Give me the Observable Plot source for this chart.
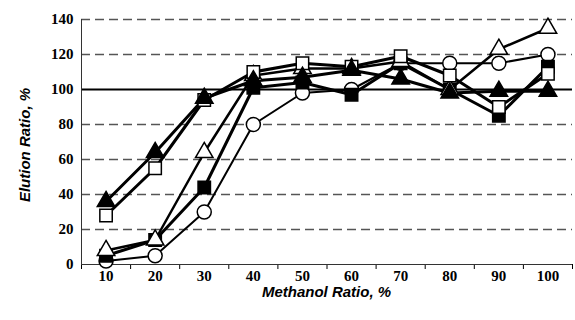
<!DOCTYPE html>
<html><head><meta charset="utf-8">
<script src="https://cdn.jsdelivr.net/npm/d3@7"></script>
<script src="https://cdn.jsdelivr.net/npm/@observablehq/plot@0.6"></script>
<style>body{margin:0;background:#fff}</style>
</head><body><div id="chart"></div>
<script>
const methanol = [10, 20, 30, 40, 50, 60, 70, 80, 90, 100];
const filledTriangle = [36, 64, 95, 105, 107, 111, 106, 98, 99, 99];
const openSquare = [28, 55, 94, 110, 115, 113, 119, 108, 90, 109];
const openTriangle = [8, 14, 64, 108, 112, 112, 116, 100, 123, 135];
const filledSquare = [5, 14, 44, 101, 104, 97, 115, 100, 85, 113];
const openCircle = [2, 5, 30, 80, 98, 100, 115, 115, 115, 120];
const yTicks = [0, 20, 40, 60, 80, 100, 120, 140];
const gridTicks = [20, 40, 60, 80, 120, 140];
const xBoundaries = [5, 15, 25, 35, 45, 55, 65, 75, 85, 95, 105];

const seriesDefs = [
  {name: "openCircle", values: openCircle, symbol: "circle", fill: "white", r: 7, sw: 2},
  {name: "filledSquare", values: filledSquare, symbol: "square", fill: "black", r: 7, sw: 3},
  {name: "openTriangle", values: openTriangle, symbol: "triangle", fill: "white", r: 6.5, sw: 2.5},
  {name: "openSquare", values: openSquare, symbol: "square", fill: "white", r: 7, sw: 3},
  {name: "filledTriangle", values: filledTriangle, symbol: "triangle", fill: "black", r: 6.5, sw: 3}
];

const marks = [
  Plot.ruleY(gridTicks, {stroke: "#555", strokeWidth: 1.5, strokeDasharray: "9,5"}),
  Plot.ruleY([100], {stroke: "black", strokeWidth: 2}),
  Plot.axisY({ticks: yTicks, tickSize: 5, tickPadding: 3, label: null,
    fontFamily: "Liberation Serif", fontWeight: "bold", fontSize: 15, stroke: null}),
  Plot.axisX({ticks: xBoundaries, tickSize: 5, tickFormat: () => "", label: null, tickPadding: 0}),
  Plot.axisX({ticks: methanol, tickSize: 0, tickPadding: 6, label: null,
    fontFamily: "Liberation Serif", fontWeight: "bold", fontSize: 15}),
  Plot.ruleX([5], {y1: 0, y2: 140, stroke: "#333", strokeWidth: 1}),
  Plot.ruleY([0], {x1: 5, x2: 105, stroke: "#333", strokeWidth: 1.2})
];

for (const s of seriesDefs) {
  const data = methanol.map((m, i) => ({x: m, y: s.values[i]}));
  marks.push(Plot.line(data, {x: "x", y: "y", stroke: "black", strokeWidth: s.sw}));
}
for (const s of seriesDefs) {
  const data = methanol.map((m, i) => ({x: m, y: s.values[i]}));
  marks.push(Plot.dot(data, {x: "x", y: "y", symbol: () => s.symbol, r: s.r, fill: s.fill, stroke: "black", strokeWidth: 1.5}));
}

const chart = Plot.plot({
  width: 575,
  height: 320,
  marginLeft: 81,
  marginRight: 3,
  marginTop: 19,
  marginBottom: 56,
  x: {type: "linear", domain: [5, 105], axis: null},
  y: {domain: [0, 140], axis: null},
  symbol: {type: "identity"},
  style: {background: "white", color: "black", overflow: "visible"},
  marks
});

const wrap = d3.create("div").style("position", "relative").style("width", "575px").style("height", "320px");
wrap.node().appendChild(chart);
wrap.append("div").text("Methanol Ratio, %")
  .style("position", "absolute").style("left", "81px").style("width", "491px").style("top", "283px")
  .style("text-align", "center").style("font", "italic bold 15px 'Liberation Sans', Arial, sans-serif");
wrap.append("div").text("Elution Ratio, %")
  .style("position", "absolute").style("left", "24px").style("top", "145px")
  .style("transform", "translate(-50%,-50%) rotate(-90deg)").style("white-space", "nowrap")
  .style("font", "italic bold 15px 'Liberation Sans', Arial, sans-serif");
document.getElementById("chart").appendChild(wrap.node());
</script>
</body></html>
